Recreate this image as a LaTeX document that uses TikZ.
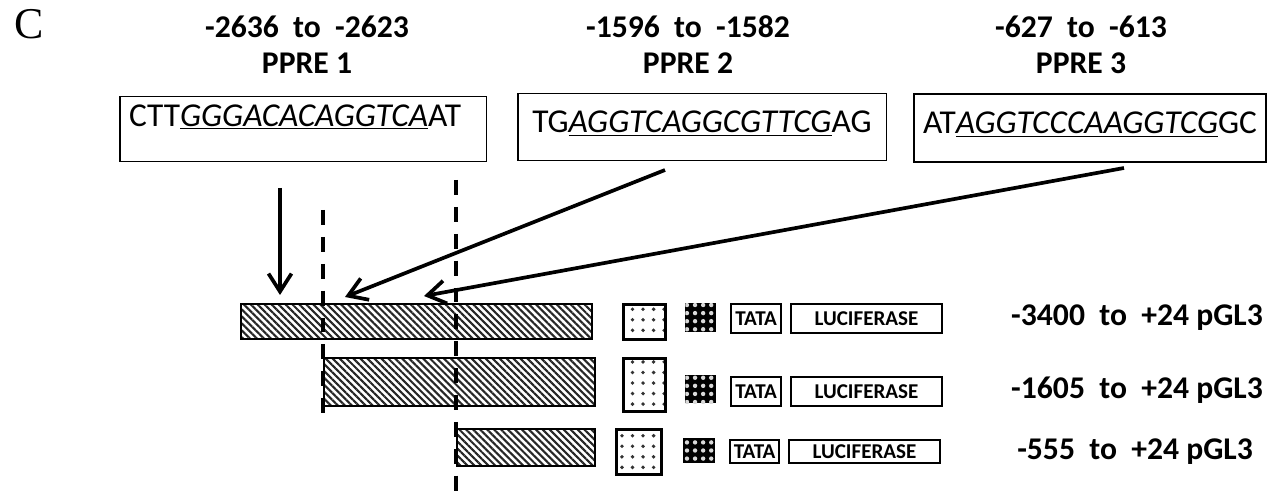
\documentclass[tikz,border=0pt]{standalone}
\usepackage{fontspec}
\setmainfont{Carlito}
\newfontfamily\panelfont{Liberation Serif}
\usepackage{tikz}
\usetikzlibrary{positioning, arrows.meta, patterns.meta}

\begin{document}
\begin{tikzpicture}[
    x=0.02cm, y=-0.02cm,
    title/.style={align=center, font=\fontsize{18}{20.4}\selectfont\bfseries, inner sep=0pt},
    seqbox/.style={draw, line width=1.1pt, font=\fontsize{19}{21}\selectfont, inner sep=0pt},
    bar/.style={draw, line width=1.1pt, anchor=north west, inner sep=0pt,
      pattern={Lines[angle=-45, distance=2.8pt, line width=1.2pt]}, pattern color=black!85},
    enh/.style={draw, line width=1.7pt, anchor=north west, inner sep=0pt,
      pattern={Dots[distance=6pt, radius=1.1pt]}, pattern color=black!80},
    prom/.style={fill=black, anchor=north west, inner sep=0pt,
      postaction={pattern={Dots[distance=4.6pt, radius=1.25pt]}, pattern color=white!85!black}},
    tag/.style={draw, line width=1.2pt, anchor=north west, inner sep=0pt,
      font=\fontsize{12}{13}\selectfont\bfseries},
    lab/.style={font=\fontsize{18}{20}\selectfont\bfseries, inner sep=0pt},
    arr/.style={-{Straight Barb[length=3.6mm, width=4.6mm, line width=2.1pt]}, line width=2.1pt},
    cut/.style={line width=2.2pt, dash pattern=on 8.5pt off 6.8pt}
  ]
    \useasboundingbox (0,0) rectangle (1267,499);
    \node[font=\panelfont\fontsize{25}{25}\selectfont, inner sep=0pt] (panel) at (29,24) {C};
    % PPRE sites
    \node[title] (t1) at (307,45) {-2636\ \ to\ \ -2623\\PPRE 1};
    \node[title] (t2) at (688,45) {-1596\ \ to\ \ -1582\\PPRE 2};
    \node[title] (t3) at (1081,45) {-627\ \ to\ \ -613\\PPRE 3};
    \node[seqbox, minimum width=7.34cm, minimum height=1.30cm] (s1) at (303,129)
      {\raisebox{1.7pt}[0pt][0pt]{CTT\underline{\textit{GGGACACAGGTCA}}AT\hspace{9pt}}};
    \node[seqbox, minimum width=7.38cm, minimum height=1.34cm] (s2) at (702,127)
      {\raisebox{-3.4pt}[0pt][0pt]{TG\underline{\textit{AGGTCAGGCGTTCG}}AG}};
    \node[seqbox, minimum width=7.04cm, minimum height=1.36cm] (s3) at (1090,128)
      {\raisebox{-3.4pt}[0pt][0pt]{AT\underline{\textit{AGGTCCCAAGGTCG}}GC}};
    % constructs
    \node[bar, minimum width=7.02cm, minimum height=0.70cm] (bar1) at (240,303) {};
    \node[bar, minimum width=5.42cm, minimum height=0.96cm] (bar2) at (323,357) {};
    \node[bar, minimum width=2.76cm, minimum height=0.74cm] (bar3) at (456,428) {};
    \node[enh, minimum width=0.84cm, minimum height=0.70cm] (enh1) at (622,303) {};
    \node[enh, minimum width=0.84cm, minimum height=1.06cm] (enh2) at (622,357) {};
    \node[enh, minimum width=0.90cm, minimum height=0.90cm] (enh3) at (615,428) {};
    \node[prom, minimum width=0.62cm, minimum height=0.58cm] (prom1) at (685,303) {};
    \node[prom, minimum width=0.62cm, minimum height=0.56cm] (prom2) at (685,375) {};
    \node[prom, minimum width=0.64cm, minimum height=0.50cm] (prom3) at (683,438) {};
    \node[tag, minimum width=1.00cm, minimum height=0.58cm] (tata1) at (730,303) {TATA};
    \node[tag, minimum width=1.00cm, minimum height=0.58cm] (tata2) at (730,376) {TATA};
    \node[tag, minimum width=0.98cm, minimum height=0.46cm] (tata3) at (729,439) {TATA};
    \node[tag, minimum width=3.02cm, minimum height=0.58cm] (luc1) at (790,303) {LUCIFERASE};
    \node[tag, minimum width=3.02cm, minimum height=0.58cm] (luc2) at (790,376) {LUCIFERASE};
    \node[tag, minimum width=3.02cm, minimum height=0.46cm] (luc3) at (788,439) {LUCIFERASE};
    \node[lab] (lab1) at (1137,318) {-3400\ \ to\ \ +24 pGL3};
    \node[lab] (lab2) at (1137,390) {-1605\ \ to\ \ +24 pGL3};
    \node[lab] (lab3) at (1135,452) {-555\ \ to\ \ +24 pGL3};
    % deletion boundaries
    \coordinate (cutA top) at (323,210);
    \coordinate (cutA bot) at (323,422);
    \coordinate (cutB top) at (456,180);
    \coordinate (cutB bot) at (456,499);
    \draw[cut] (cutA top) -- (cutA bot);
    \draw[cut] (cutB top) -- (cutB bot);
    % site positions on the full construct
    \coordinate (a1s) at (280,188);
    \coordinate (a1e) at (280,295);
    \coordinate (a2s) at (665,170);
    \coordinate (a2e) at (345,297);
    \coordinate (a3s) at (1124,168);
    \coordinate (a3e) at (424,296);
    \draw[arr] (a1s) -- (a1e);
    \draw[arr] (a2s) -- (a2e);
    \draw[arr] (a3s) -- (a3e);
  \end{tikzpicture}
\end{document}
